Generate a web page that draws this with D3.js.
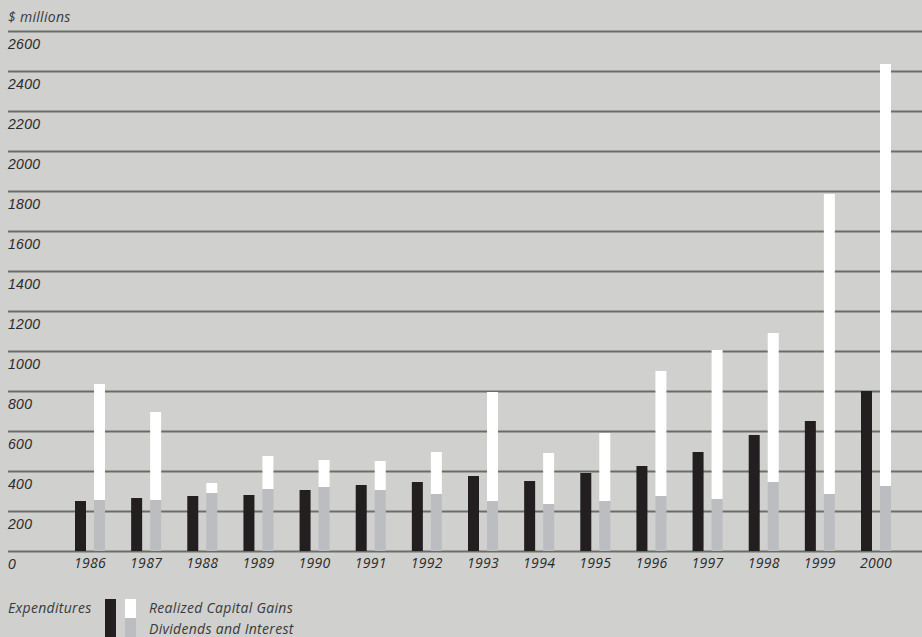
<!DOCTYPE html>
<html>
  <body style="margin:0">
    <style>
      body { background: #d0d0ce; }
      svg { display: block; font-family: 'Open Sans', sans-serif; font-style: italic; }
    </style>
    <script src="https://d3js.org/d3.v7.min.js"></script>
    <script type="text/javascript">

      const width = 922;
      const height = 637;

      // values in $ millions
      const years = ['1986', '1987', '1988', '1989', '1990', '1991', '1992', '1993',
        '1994', '1995', '1996', '1997', '1998', '1999', '2000'];
      const expenditures = [250, 265, 275, 280, 305, 330, 345, 375, 350, 390, 425, 495, 580, 650, 800];
      const dividends = [255, 255, 290, 310, 320, 305, 285, 250, 235, 250, 275, 260, 345, 285, 325];
      const capitalGains = [580, 440, 50, 165, 135, 145, 210, 545, 255, 340, 625, 745, 745, 1500, 2110];
      const yTicks = [0, 200, 400, 600, 800, 1000, 1200, 1400, 1600, 1800, 2000, 2200, 2400, 2600];

      const colors = { exp: '#231f20', div: '#bcbdc0', gains: '#ffffff', grid: '#6a6e69', text: '#2a2a2a' };
      const fontSize = '14px';

      const svg = d3.select('body')
        .append('svg')
        .attr('width', width)
        .attr('height', height)
        .style('letter-spacing', '0.3px');

      const y = d3.scaleLinear()
        .domain([0, 2600])
        .range([551, 31]);

      const x = d3.scalePoint()
        .domain(years)
        .range([90, 876]);

      const barWidth = 11;

      // grid lines with labels sitting just below each line
      const yAxis = d3.axisRight(y)
        .tickValues(yTicks)
        .tickSize(914)
        .tickFormat(d3.format('d'));

      svg.append('g')
        .attr('transform', 'translate(8, 0)')
        .call(yAxis)
        .call((g) => g.select('.domain').remove())
        .call((g) => g.selectAll('line').attr('stroke', colors.grid).attr('stroke-width', 2))
        .call((g) => g.selectAll('text')
          .attr('x', 0)
          .attr('dy', 17)
          .attr('text-anchor', 'start')
          .attr('fill', colors.text)
          .style('font-size', fontSize)
          .style('font-family', null));

      svg.append('text')
        .attr('x', 8)
        .attr('y', 22)
        .attr('fill', '#3a3a3a')
        .style('font-size', fontSize)
        .text('$ millions');

      const rows = years.map((yr, i) => ({ year: yr, exp: expenditures[i], div: dividends[i], gains: capitalGains[i] }));

      // expenditures bars
      svg.append('g')
        .selectAll('rect')
        .data(rows)
        .enter()
        .append('rect')
        .attr('x', (d) => x(d.year) - 15)
        .attr('y', (d) => y(d.exp))
        .attr('width', barWidth)
        .attr('height', (d) => y(0) - y(d.exp))
        .attr('fill', colors.exp);

      // stacked dividends + realized capital gains
      const stack = d3.stack().keys(['div', 'gains'])(rows);

      svg.append('g')
        .selectAll('g')
        .data(stack)
        .enter()
        .append('g')
        .attr('fill', (s) => colors[s.key])
        .selectAll('rect')
        .data((s) => s)
        .enter()
        .append('rect')
        .attr('x', (d) => x(d.data.year) + 4)
        .attr('y', (d) => y(d[1]))
        .attr('width', barWidth)
        .attr('height', (d) => y(d[0]) - y(d[1]));

      // year labels
      svg.append('g')
        .selectAll('text')
        .data(years)
        .enter()
        .append('text')
        .attr('x', (d) => x(d))
        .attr('y', 568)
        .attr('text-anchor', 'middle')
        .attr('fill', colors.text)
        .style('font-size', fontSize)
        .text((d) => d);

      // legend
      const legend = svg.append('g');
      legend.append('text').attr('x', 8).attr('y', 613).attr('fill', '#3a3a3a')
        .style('font-size', fontSize).text('Expenditures');
      legend.append('rect').attr('x', 105).attr('y', 599).attr('width', barWidth).attr('height', 40).attr('fill', colors.exp);
      legend.append('rect').attr('x', 125).attr('y', 599).attr('width', barWidth).attr('height', 19).attr('fill', colors.gains);
      legend.append('rect').attr('x', 125).attr('y', 618).attr('width', barWidth).attr('height', 21).attr('fill', colors.div);
      legend.append('text').attr('x', 149).attr('y', 613).attr('fill', '#3a3a3a')
        .style('font-size', fontSize).text('Realized Capital Gains');
      legend.append('text').attr('x', 149).attr('y', 634).attr('fill', '#3a3a3a')
        .style('font-size', fontSize).text('Dividends and Interest');

    </script>
  </body>
</html>
